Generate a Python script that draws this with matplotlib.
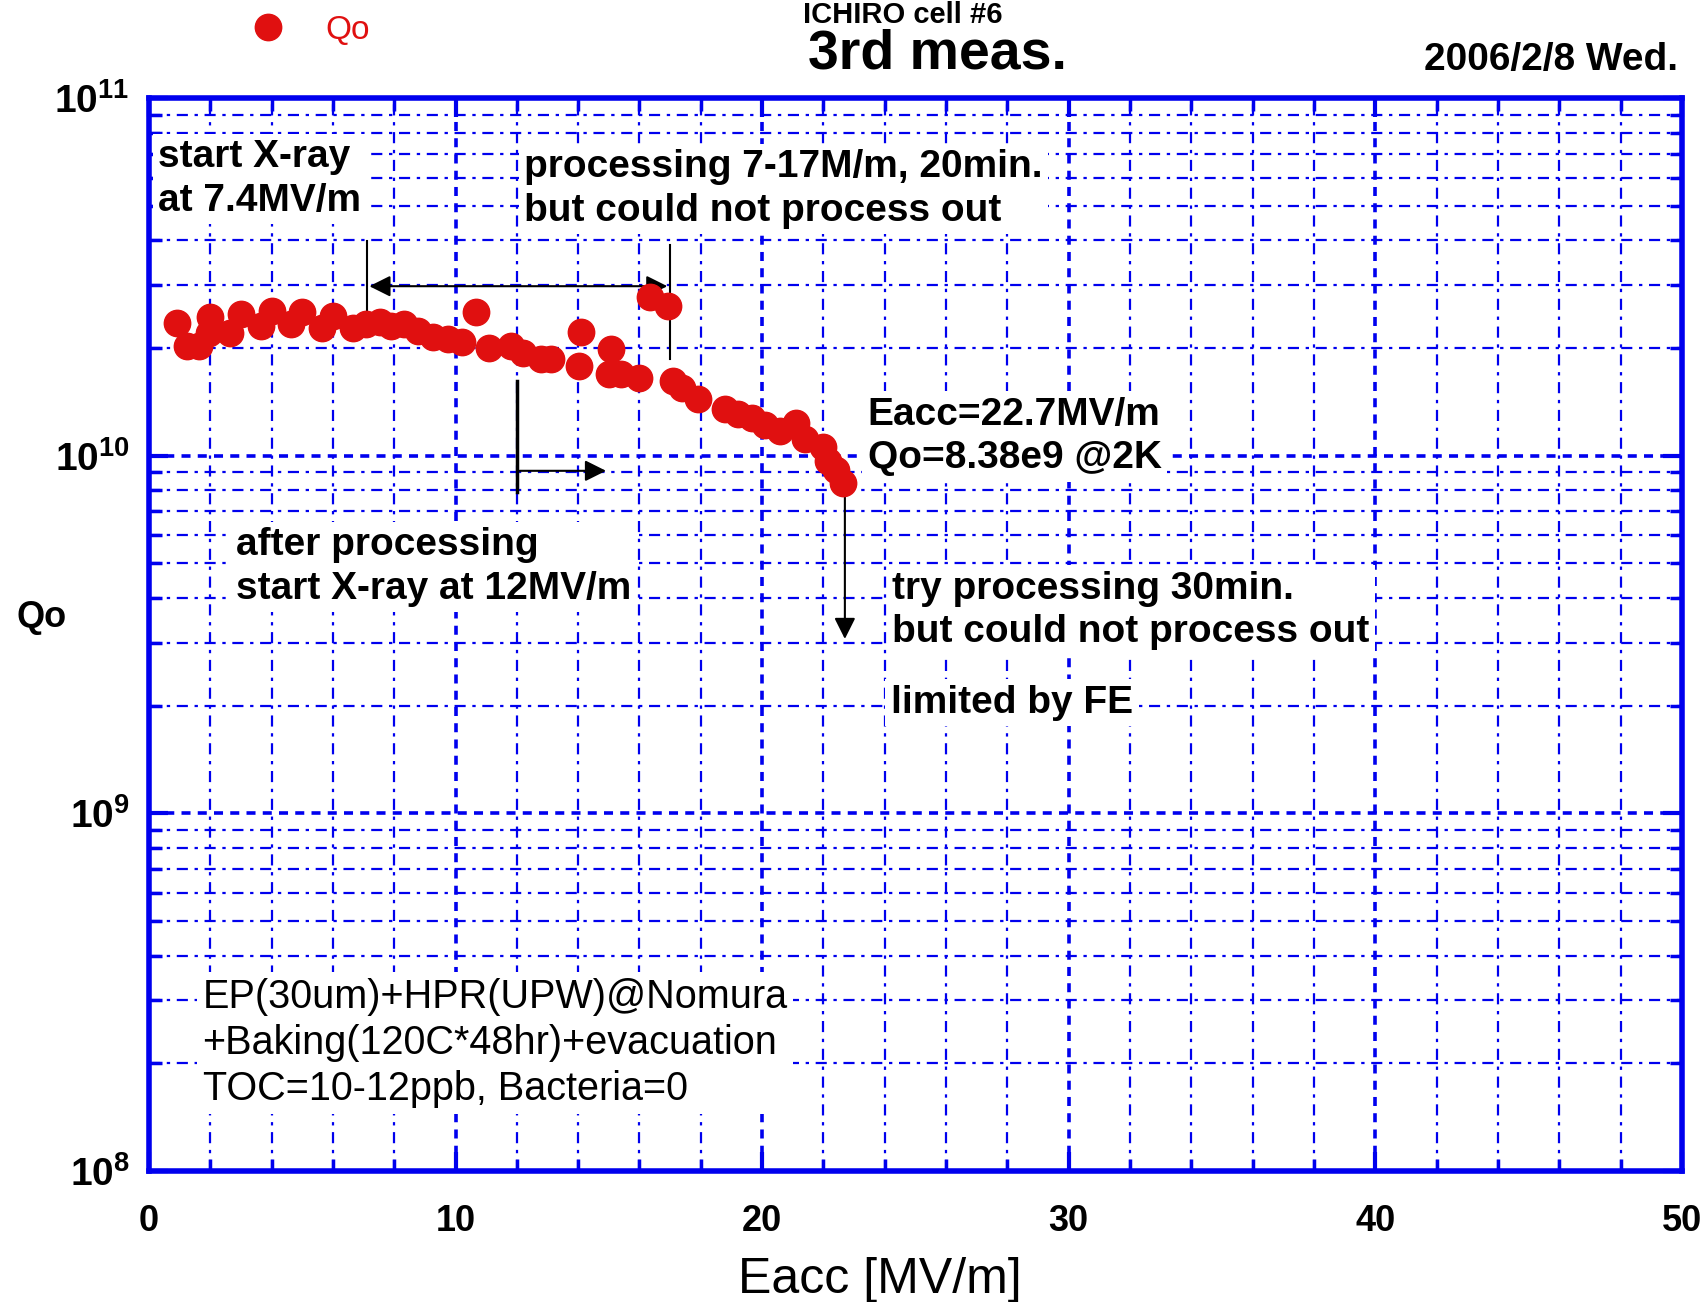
import matplotlib.pyplot as plt
import matplotlib.ticker as mticker
import numpy as np

# Eacc [MV/m] and Qo
eacc = [0.92, 1.24, 1.63, 1.98, 1.95, 2.66, 3.01, 3.65, 4.0, 4.64, 5.0, 5.63, 5.99,
        6.66, 7.09, 7.55, 7.9, 8.33, 8.79, 9.25, 9.74, 10.2, 10.67, 11.1, 11.8, 12.2,
        12.8, 13.1, 14.03, 14.1, 15.06, 15.0, 15.4, 15.98, 16.34, 16.94, 17.1, 17.4,
        17.9, 18.8, 19.2, 19.67, 20.1, 20.6, 21.1, 21.4, 22.0, 22.15, 22.4, 22.64]
log_qo = [10.371, 10.308, 10.308, 10.387, 10.344, 10.344, 10.396, 10.362, 10.405,
          10.368, 10.402, 10.356, 10.39, 10.356, 10.368, 10.374, 10.362, 10.368,
          10.35, 10.332, 10.326, 10.317, 10.402, 10.302, 10.308, 10.287, 10.272,
          10.272, 10.251, 10.345, 10.299, 10.229, 10.229, 10.217, 10.445, 10.42,
          10.208, 10.19, 10.159, 10.132, 10.116, 10.107, 10.086, 10.068, 10.092,
          10.046, 10.025, 9.985, 9.961, 9.923]
qo = [10 ** v for v in log_qo]

blue = '#0000ee'
red = '#e01010'
plt.rcParams['font.family'] = ['Liberation Sans', 'DejaVu Sans']
plt.rcParams['mathtext.fontset'] = 'custom'
plt.rcParams['mathtext.rm'] = 'Liberation Sans'
plt.rcParams['mathtext.bf'] = 'Liberation Sans:bold'

fig = plt.figure(figsize=(17.04, 13.02), dpi=100)
ax = fig.add_axes([0.0874, 0.1006, 0.8996, 0.824])

ax.plot(eacc, qo, 'o', color=red, ms=19, mec=red, label='Qo', zorder=5)

ax.set_xlim(0, 50)
ax.set_yscale('log')
ax.set_ylim(1e8, 1e11)
ax.xaxis.set_major_locator(mticker.MultipleLocator(10))
ax.xaxis.set_minor_locator(mticker.MultipleLocator(2))
ax.yaxis.set_major_locator(mticker.LogLocator(base=10))
ax.yaxis.set_minor_locator(mticker.LogLocator(base=10, subs=np.arange(2, 10)))
ax.yaxis.set_major_formatter(mticker.FuncFormatter(
    lambda v, pos: r'$\mathbf{10^{%d}}$' % round(np.log10(v))))
ax.yaxis.set_minor_formatter(mticker.NullFormatter())

ax.grid(True, which='minor', color=blue, ls=(0, (5, 3, 1.5, 3)), lw=1.6)
ax.grid(True, which='major', color=blue, ls=(0, (2.5, 2)), lw=2.6)
ax.set_axisbelow(True)
for sp in ax.spines.values():
    sp.set_color(blue)
    sp.set_linewidth(4)
ax.tick_params(which='both', direction='in', top=True, right=True, color=blue)
ax.tick_params(which='major', length=14, width=3, labelsize=26, pad=14)
ax.tick_params(axis='x', which='major', pad=24)
ax.tick_params(axis='y', which='major', labelsize=28)
ax.tick_params(which='minor', length=9, width=2.5)
for lab in ax.get_xticklabels():
    lab.set_fontweight('bold')

ax.set_xlabel('Eacc [MV/m]', fontsize=36)
ax.xaxis.set_label_coords(0.477, -0.08)
ax.set_ylabel('Qo', fontsize=26, fontweight='bold', rotation=0)
ax.yaxis.set_label_coords(-0.07, 0.5)

ax.legend(loc='center', bbox_to_anchor=(0.1, 1.063), frameon=False,
          fontsize=24, labelcolor=red, handletextpad=0.7)

fig.text(0.53, 0.999, 'ICHIRO cell #6', ha='center', va='top', fontsize=21, fontweight='bold')
fig.text(0.55, 0.958, '3rd meas.', ha='center', va='center', fontsize=40, fontweight='bold')
fig.text(0.985, 0.954, '2006/2/8 Wed.', ha='right', va='center', fontsize=28, fontweight='bold')

box = dict(fc='white', ec='none', pad=4)
tkw = dict(transform=ax.transAxes, fontsize=28, fontweight='bold', va='top', ha='left', bbox=box,
           linespacing=1.27, zorder=4)
ax.text(0.006, 0.9615, 'start X-ray\nat 7.4MV/m', **tkw)
ax.text(0.245, 0.9524, 'processing 7-17M/m, 20min.\nbut could not process out', **tkw)
ax.text(0.469, 0.7217, 'Eacc=22.7MV/m\nQo=8.38e9 @2K', **tkw)
ax.text(0.057, 0.6002, 'after processing\nstart X-ray at 12MV/m', **tkw)
ax.text(0.485, 0.5597, 'try processing 30min.\nbut could not process out', **tkw)
ax.text(0.484, 0.4534, 'limited by FE', **tkw)
ax.text(0.035, 0.1802, 'EP(30um)+HPR(UPW)@Nomura\n+Baking(120C*48hr)+evacuation\nTOC=10-12ppb, Bacteria=0',
        transform=ax.transAxes, fontsize=28.5, va='top', ha='left', bbox=box, linespacing=1.275, zorder=4)

akw = dict(arrowstyle='-|>', color='black', lw=1.5, mutation_scale=32)
ax.annotate('', xy=(7.1, 2.98e10), xytext=(17.0, 2.98e10),
            arrowprops=dict(arrowstyle='<|-|>', color='black', lw=1.5, mutation_scale=32))
ax.plot([7.1, 7.1], [10 ** 10.6, 10 ** 10.393], color='black', lw=1.5)
ax.plot([17.0, 17.0], [10 ** 10.59, 10 ** 10.27], color='black', lw=1.5)
ax.plot([12.0, 12.0], [10 ** 10.21, 10 ** 9.9], color='black', lw=2.5)
ax.annotate('', xy=(15.0, 10 ** 9.958), xytext=(12.0, 10 ** 9.958), arrowprops=akw)
ax.annotate('', xy=(22.7, 10 ** 9.48), xytext=(22.7, 10 ** 9.923), arrowprops=akw)

fig.savefig('out.png', dpi=100)
